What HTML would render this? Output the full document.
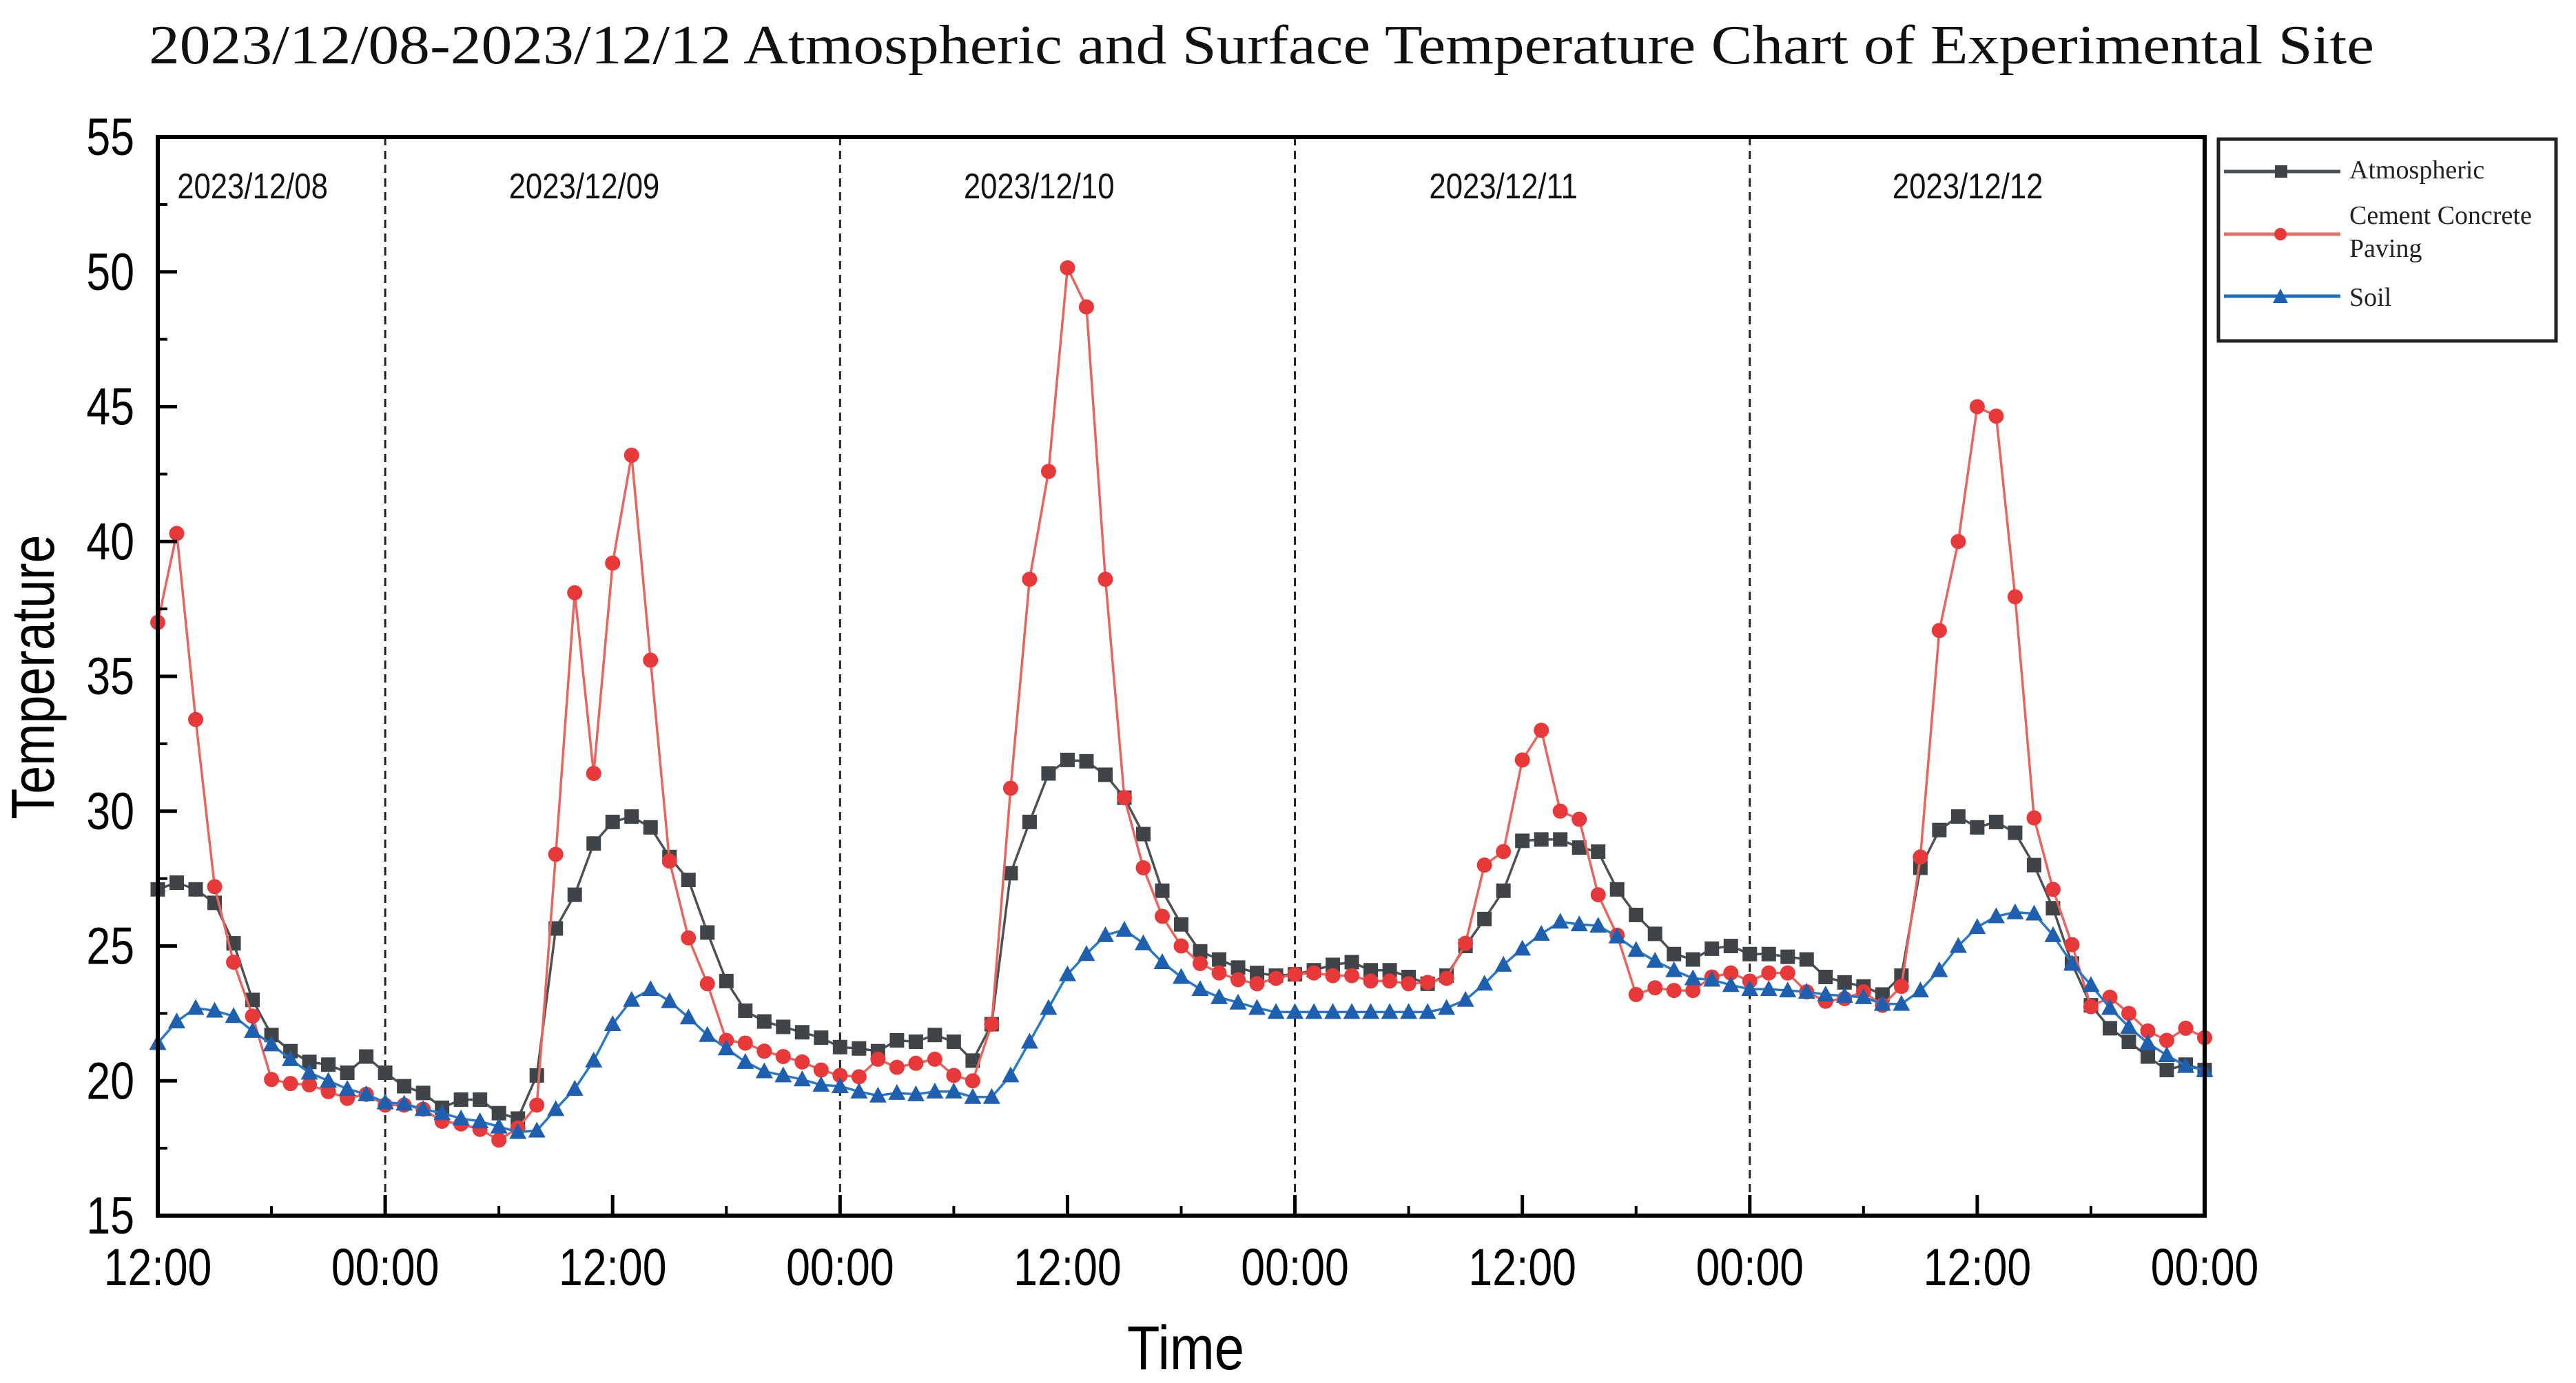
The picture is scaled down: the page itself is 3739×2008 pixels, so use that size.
<!DOCTYPE html>
<html><head><meta charset="utf-8"><style>
html,body{margin:0;padding:0;background:#fff;}
svg{display:block;}
</style></head><body>
<svg id="chart" xmlns="http://www.w3.org/2000/svg" width="3739" height="2008" viewBox="0 0 3739 2008">
<rect x="0" y="0" width="3739" height="2008" fill="#fff"/>
<text x="216" y="92" textLength="3230" lengthAdjust="spacingAndGlyphs" font-family="Liberation Serif, serif" font-size="80" fill="#111">2023/12/08-2023/12/12 Atmospheric and Surface Temperature Chart of Experimental Site</text>
<g id="grid"></g>
<g id="series"></g>
<g id="axes"></g>
<text transform="translate(78,983) rotate(-90) scale(0.92,1.1)" text-anchor="middle" font-family="Liberation Sans, sans-serif" font-size="80" fill="#000">Temperature</text>
<text transform="translate(1721,1988) scale(0.95,1.1)" text-anchor="middle" font-family="Liberation Sans, sans-serif" font-size="82" fill="#000">Time</text>
<g>
<rect x="3220" y="202" width="490" height="293" fill="#fff" stroke="#222" stroke-width="5"/>
<line x1="3228" y1="249" x2="3397" y2="249" stroke="#4a5256" stroke-width="5"/>
<rect x="3302" y="240" width="18" height="18" fill="#3f4448"/>
<text x="3410" y="259" font-family="Liberation Serif, serif" font-size="38" fill="#222">Atmospheric</text>
<line x1="3228" y1="340" x2="3397" y2="340" stroke="#e57368" stroke-width="5"/>
<circle cx="3310" cy="340" r="9" fill="#e8393a"/>
<text x="3410" y="325" font-family="Liberation Serif, serif" font-size="38" fill="#222">Cement Concrete</text>
<text x="3410" y="373" font-family="Liberation Serif, serif" font-size="38" fill="#222">Paving</text>
<line x1="3228" y1="430" x2="3397" y2="430" stroke="#1f6fbf" stroke-width="5"/>
<polygon points="3310,419 3321,440 3299,440" fill="#1f5fb0"/>
<text x="3410" y="444" font-family="Liberation Serif, serif" font-size="38" fill="#222">Soil</text>
</g>
</svg>
<script>
const hours = Array.from({length:109},(_,i)=>i);
const atmospheric = [27.1,27.35,27.1,26.6,25.1,23.0,21.7,21.1,20.7,20.6,20.3,20.9,20.3,19.8,19.55,19.0,19.3,19.3,18.8,18.6,20.2,25.65,26.9,28.8,29.6,29.8,29.4,28.3,27.45,25.5,23.7,22.6,22.2,22.0,21.8,21.6,21.25,21.2,21.1,21.5,21.45,21.7,21.45,20.75,22.1,27.7,29.6,31.4,31.9,31.85,31.35,30.5,29.15,27.05,25.8,24.8,24.5,24.2,24.0,23.9,23.95,24.1,24.3,24.4,24.1,24.1,23.85,23.6,23.9,25.0,26.0,27.05,28.9,28.95,28.95,28.65,28.5,27.1,26.15,25.45,24.7,24.5,24.9,25.0,24.7,24.7,24.6,24.5,23.85,23.65,23.5,23.2,23.9,27.9,29.3,29.8,29.4,29.6,29.2,28.0,26.4,24.35,22.8,21.95,21.45,20.9,20.4,20.6,20.4];
const concrete = [37.0,40.3,33.4,27.2,24.4,22.4,20.05,19.9,19.85,19.6,19.35,19.5,19.1,19.1,18.95,18.5,18.4,18.2,17.8,18.25,19.1,28.4,38.1,31.4,39.2,43.2,35.6,28.15,25.3,23.6,21.5,21.4,21.1,20.9,20.7,20.4,20.2,20.15,20.8,20.5,20.65,20.8,20.2,20.0,22.1,30.85,38.6,42.6,50.15,48.7,38.6,30.5,27.9,26.1,25.0,24.35,24.0,23.75,23.6,23.8,23.95,24.0,23.9,23.9,23.7,23.7,23.6,23.65,23.8,25.1,28.0,28.5,31.9,33.0,30.0,29.7,26.9,25.4,23.2,23.45,23.35,23.35,23.85,24.0,23.7,24.0,24.0,23.3,22.95,23.05,23.3,22.8,23.5,28.3,36.7,40.0,45.0,44.65,37.95,29.75,27.1,25.05,22.75,23.1,22.5,21.85,21.5,21.95,21.6];
const soil = [21.4,22.2,22.7,22.6,22.4,21.85,21.35,20.8,20.3,20.0,19.7,19.5,19.2,19.15,18.95,18.8,18.6,18.5,18.3,18.1,18.15,18.95,19.7,20.75,22.1,23.0,23.4,22.95,22.35,21.7,21.2,20.7,20.35,20.2,20.05,19.85,19.8,19.6,19.45,19.55,19.5,19.6,19.6,19.4,19.4,20.2,21.45,22.7,23.95,24.7,25.4,25.6,25.1,24.4,23.85,23.4,23.1,22.9,22.7,22.55,22.55,22.55,22.55,22.55,22.55,22.55,22.55,22.55,22.7,23.0,23.6,24.3,24.9,25.45,25.9,25.8,25.75,25.35,24.85,24.45,24.1,23.8,23.75,23.55,23.4,23.4,23.35,23.3,23.2,23.15,23.1,22.85,22.85,23.35,24.1,25.0,25.7,26.1,26.25,26.2,25.4,24.35,23.55,22.7,22.0,21.4,20.95,20.55,20.4];
const yTicks = [15,20,25,30,35,40,45,50,55];
const xTickHours = [0,12,24,36,48,60,72,84,96,108];
const xTickLabels = ["12:00","00:00","12:00","00:00","12:00","00:00","12:00","00:00","12:00","00:00"];
const dayLabels = ["2023/12/08","2023/12/09","2023/12/10","2023/12/11","2023/12/12"];
const dayLabelHours = [5,22.5,46.5,71,95.5];
const dividerHours = [12,36,60,84];

const NS="http://www.w3.org/2000/svg";
const L=229,R=3200,T=199,B=1765,Y0=15,Y1=55,H0=0,H1=108;
const xs=h=>L+(h-H0)/(H1-H0)*(R-L);
const ys=v=>B-(v-Y0)/(Y1-Y0)*(B-T);
function mk(tag,attrs,parent){const e=document.createElementNS(NS,tag);for(const k in attrs)e.setAttribute(k,attrs[k]);parent.appendChild(e);return e;}
const grid=document.getElementById('grid'),ser=document.getElementById('series'),ax=document.getElementById('axes');

dividerHours.forEach(h=>{
  const l=mk('line',{x1:xs(h),y1:T,x2:xs(h),y2:B,stroke:'#222','stroke-width':3,'stroke-dasharray':'12,8'},grid);
  
  
});
dayLabels.forEach((d,i)=>{
  const t=mk('text',{transform:`translate(${xs(dayLabelHours[i])},288) scale(0.95,1.12)`,'text-anchor':'middle','font-family':'Liberation Sans, sans-serif','font-size':46,fill:'#111'},grid);
  t.textContent=d;
  
  
});

function drawSeries(vals,lineColor,markColor,shape,name){
  const g=mk('g',{},ser);
  
  
  const pts=vals.map((v,i)=>xs(hours[i])+','+ys(v)).join(' ');
  mk('polyline',{points:pts,fill:'none',stroke:lineColor,'stroke-width':3.5},g);
  vals.forEach((v,i)=>{
    const x=xs(hours[i]),y=ys(v);let m;
    if(shape==='square')m=mk('rect',{x:x-10.5,y:y-10.5,width:21,height:21,fill:markColor},g);
    else if(shape==='circle')m=mk('circle',{cx:x,cy:y,r:11,fill:markColor},g);
    else m=mk('polygon',{points:`${x},${y-13} ${x+12.5},${y+10} ${x-12.5},${y+10}`,fill:markColor},g);
    
    
  });
}
drawSeries(atmospheric,'#4a5256','#3f4448','square','atmospheric');
drawSeries(concrete,'#e8655e','#e8393a','circle','concrete');
drawSeries(soil,'#2a78c8','#1f5fb0','triangle','soil');

const frame=mk('rect',{x:L,y:T,width:R-L,height:B-T,fill:'none',stroke:'#000','stroke-width':6},ax);


yTicks.forEach(v=>{
  mk('line',{x1:L,y1:ys(v),x2:L+28,y2:ys(v),stroke:'#000','stroke-width':5},ax);
  const t=mk('text',{transform:`translate(195,${ys(v)+26}) scale(0.92,1.12)`,'text-anchor':'end','font-family':'Liberation Sans, sans-serif','font-size':68,fill:'#000'},ax);
  t.textContent=v;
  
  
});
for(let v=17.5;v<55;v+=5){mk('line',{x1:L,y1:ys(v),x2:L+14,y2:ys(v),stroke:'#000','stroke-width':4},ax);}
xTickHours.forEach((h,i)=>{
  mk('line',{x1:xs(h),y1:B,x2:xs(h),y2:B-30,stroke:'#000','stroke-width':5},ax);
  const t=mk('text',{transform:`translate(${xs(h)},1866) scale(0.92,1.12)`,'text-anchor':'middle','font-family':'Liberation Sans, sans-serif','font-size':68,fill:'#000'},ax);
  t.textContent=xTickLabels[i];
  
  
});
for(let h=6;h<108;h+=12){mk('line',{x1:xs(h),y1:B,x2:xs(h),y2:B-14,stroke:'#000','stroke-width':4},ax);}
</script>
</body></html>
